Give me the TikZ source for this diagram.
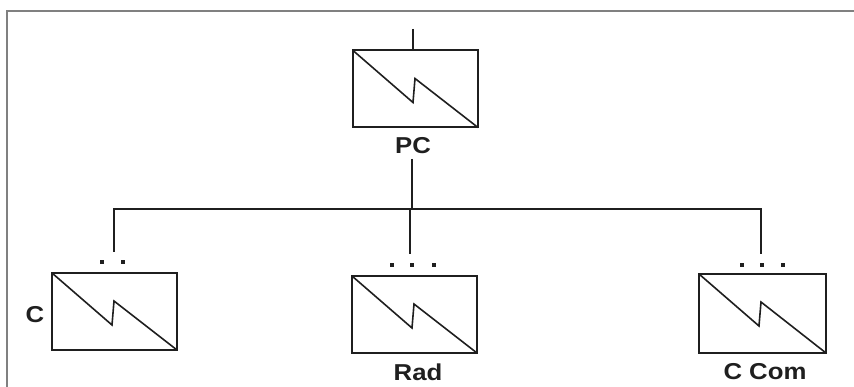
\documentclass[tikz,border=0pt]{standalone}
\usepackage{fontspec}
\setmainfont{Liberation Sans}
\usetikzlibrary{calc}
\definecolor{framegray}{rgb}{0.5,0.5,0.5}
\definecolor{ink}{rgb}{0.12,0.12,0.12}
\tikzset{
  frameline/.style={draw=framegray, line width=1.6pt},
  unitbox/.style={draw=ink, line width=2pt, minimum width=125pt, minimum height=77pt, inner sep=0pt, outer sep=0pt},
  wire/.style={draw=ink, line width=2pt},
  zig/.style={draw=ink, line width=1.6pt, line join=miter},
  lbl/.style={inner sep=0pt, font=\fontsize{23}{27}\selectfont\bfseries, text=ink},
  dotmark/.style={fill=ink, draw=none},
}
\newcommand\zigzag[1]{\draw[zig] (#1.north west) -- ($(#1.north west)+(60,52)$) -- ($(#1.north west)+(62,28)$) -- (#1.south east);}
\newcommand\xs[1]{\scalebox{1.12}[1]{#1}}
\begin{document}
\begin{tikzpicture}[x=1pt,y=-1pt]
\useasboundingbox (0,0) rectangle (854,387);
% frame
\coordinate (fTL) at (7,11);
\coordinate (fTR) at (854,11);
\coordinate (fBL) at (7,387);
\draw[frameline] (fTR) -- (fTL) -- (fBL);
% boxes
\node[unitbox] (pc) at (415.5,89) {};
\node[unitbox] (c) at (114.5,311.5) {};
\node[unitbox] (rad) at (414.5,314.5) {};
\node[unitbox, minimum width=127pt, minimum height=79pt] (ccom) at (762.5,313.5) {};
\zigzag{pc}
\zigzag{c}
\zigzag{rad}
\zigzag{ccom}
% labels
\node[lbl] (pcl) at (413,146) {\xs{PC}};
\node[lbl] (cl) at (35,315) {\xs{C}};
\node[lbl] (radl) at (418,372) {\xs{Rad}};
\node[lbl] (ccoml) at (765,371.5) {\xs{C Com}};
% wiring
\coordinate (top) at (413,29);
\coordinate (jm) at (412,209);
\coordinate (jl) at (114,209);
\coordinate (jr) at (761,209);
\coordinate (jmd) at (410,209);
\coordinate (el) at (114,252);
\coordinate (em) at (410,254);
\coordinate (er) at (761,254);
\coordinate (pcs) at (412,159);
\draw[wire] (top) -- (top |- pc.north);
\draw[wire] (pcs) -- (jm);
\draw[wire] (el) -- (jl) -- (jr) -- (er);
\draw[wire] (jmd) -- (em);
% dots
\foreach \x/\y in {102/262,123/262,392/265,412/265,434/265,742/265,762/265,783/265}
  \fill[dotmark] (\x-2.2,\y-2.2) rectangle (\x+2.2,\y+2.2);
\end{tikzpicture}
\end{document}
